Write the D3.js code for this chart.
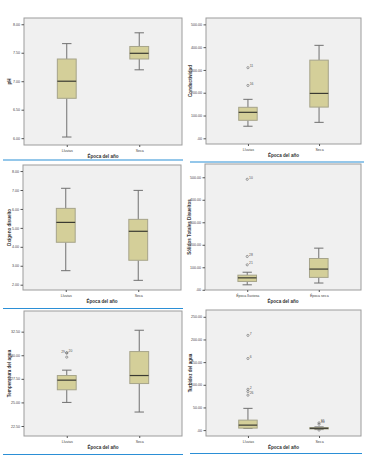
<!DOCTYPE html>
<html>
<head>
<meta charset="utf-8">
<script src="https://cdn.jsdelivr.net/npm/d3@7"></script>
<style>
  html, body { margin: 0; padding: 0; background: #fff; }
  svg { display: block; font-family: "Liberation Sans", Arial, sans-serif; }
</style>
</head>
<body>
<div id="container"></div>
<script>
// categories
const seasonsA = ['Lluvias', 'Seca'];
const seasonsB = ['Época lluviosa', 'Época seca'];

// box stats per group: [min, q1, median, q3, max]
const phStats = [[6.02, 6.70, 7.00, 7.39, 7.66], [7.20, 7.39, 7.49, 7.61, 7.85]];
const condStats = [[53, 79, 114, 136, 171], [70, 137, 197, 343, 408]];
const oxiStats = [[2.74, 4.24, 5.29, 6.03, 7.09], [2.23, 3.29, 4.82, 5.45, 6.98]];
const stdStats = [[22, 37, 53, 65, 78], [30, 55, 92, 139, 185]];
const tempStats = [[25.0, 26.34, 27.36, 27.85, 28.42], [23.98, 27.0, 27.85, 30.39, 32.65]];
const turbStats = [[3.7, 4.4, 11, 22, 48], [1.2, 2.5, 4, 5.5, 7]];

// outliers per group: [value, case label, label on left side]
const condOut = [[[310, '11'], [232, '16']], []];
const stdOut = [[[491, '10'], [148, '28'], [111, '21']], []];
const tempOut = [[[30.25, '20'], [30.25, '29', true], [29.8, '']], []];
const turbOut = [[[209, '7'], [158, '6'], [90, '2'], [85, ''], [77, '26']], [[16, '31'], [13, '30'], [0, '']]];

// tick values
const phTicks = [6, 6.5, 7, 7.5, 8];
const condTicks = [0, 100, 200, 300, 400, 500];
const oxiTicks = [2, 3, 4, 5, 6, 7, 8];
const stdTicks = [0, 100, 200, 300, 400, 500];
const tempTicks = [22.5, 25, 27.5, 30, 32.5];
const turbTicks = [0, 50, 100, 150, 200, 250];

const W = 375, H = 457;
const svg = d3.select('#container').append('svg').attr('width', W).attr('height', H);

const fmt = v => { const s = d3.format('.2f')(v); return s.startsWith('0.') ? s.slice(1) : s; };

function drawPanel(p) {
  const { x0, x1, y0, y1 } = p.frame;
  const g = svg.append('g');
  const y = d3.scaleLinear().domain(p.domain).range([y1, y0]);
  const x = d3.scalePoint().domain(p.cats).range([x0, x1]).padding(0.59);
  const bw = x.step() * 0.26;

  g.append('rect').attr('x', x0).attr('y', y0).attr('width', x1 - x0).attr('height', y1 - y0)
    .attr('fill', '#f0f0f0').attr('stroke', '#9c9c9c').attr('stroke-width', 1);

  const yAxis = g.append('g').attr('transform', `translate(${x0},0)`)
    .call(d3.axisLeft(y).tickValues(p.ticks).tickFormat(fmt).tickSize(2.5).tickPadding(1.5));
  yAxis.select('.domain').remove();
  yAxis.selectAll('line').attr('stroke', '#555');
  yAxis.selectAll('text').attr('font-size', 3.6).attr('fill', '#444').attr('font-family', 'Liberation Sans, Arial');

  const xAxis = g.append('g').attr('transform', `translate(0,${y1})`)
    .call(d3.axisBottom(x).tickSize(2).tickPadding(2));
  xAxis.select('.domain').remove();
  xAxis.selectAll('line').attr('stroke', '#555');
  xAxis.selectAll('text').attr('font-size', 3.6).attr('fill', '#444').attr('font-family', 'Liberation Sans, Arial');

  g.append('text').attr('x', (x0 + x1) / 2).attr('y', y1 + 12.5).attr('text-anchor', 'middle')
    .attr('font-size', 4.6).attr('font-weight', 'bold').attr('fill', '#333').text('Época del año');
  g.append('text').attr('transform', `translate(${p.titleX},${(y0 + y1) / 2}) rotate(-90)`)
    .attr('text-anchor', 'middle').attr('font-size', 4.6).attr('font-weight', 'bold').attr('fill', '#333')
    .text(p.title);

  p.stats.forEach((s, i) => {
    const cx = x(p.cats[i]);
    const [mn, q1, md, q3, mx] = s;
    g.append('line').attr('x1', cx).attr('x2', cx).attr('y1', y(mx)).attr('y2', y(q3)).attr('stroke', '#707070').attr('stroke-width', 1);
    g.append('line').attr('x1', cx).attr('x2', cx).attr('y1', y(q1)).attr('y2', y(mn)).attr('stroke', '#707070').attr('stroke-width', 1);
    [mn, mx].forEach(v => g.append('line').attr('x1', cx - bw / 4).attr('x2', cx + bw / 4).attr('y1', y(v)).attr('y2', y(v))
      .attr('stroke', '#707070').attr('stroke-width', 1));
    g.append('rect').attr('x', cx - bw / 2).attr('y', y(q3)).attr('width', bw).attr('height', Math.max(1, y(q1) - y(q3)))
      .attr('fill', '#d4cf99').attr('stroke', '#a6a48a').attr('stroke-width', 1);
    g.append('line').attr('x1', cx - bw / 2).attr('x2', cx + bw / 2).attr('y1', y(md)).attr('y2', y(md))
      .attr('stroke', '#3a3a32').attr('stroke-width', 1.2);

    (p.out[i] || []).forEach(([v, lab, left]) => {
      g.append('circle').attr('cx', cx).attr('cy', y(v)).attr('r', 1.1).attr('fill', 'none').attr('stroke', '#666').attr('stroke-width', 0.6);
      if (lab) g.append('text').attr('x', left ? cx - 1.8 : cx + 1.8).attr('y', y(v) - (left ? 0.2 : 0.8))
        .attr('text-anchor', left ? 'end' : 'start').attr('font-size', 3.4).attr('fill', '#555').text(lab);
    });
  });
}

drawPanel({ frame: { x0: 24, x1: 182, y0: 18, y1: 145 }, domain: [5.88, 8.11], ticks: phTicks, cats: seasonsA, stats: phStats, out: [[], []], title: 'pH', titleX: 11 });
drawPanel({ frame: { x0: 206, x1: 361, y0: 18, y1: 144 }, domain: [-25, 528], ticks: condTicks, cats: seasonsA, stats: condStats, out: condOut, title: 'Conductividad', titleX: 192 });
drawPanel({ frame: { x0: 23, x1: 181, y0: 165, y1: 290 }, domain: [1.72, 8.32], ticks: oxiTicks, cats: seasonsA, stats: oxiStats, out: [[], []], title: 'Oxígeno disuelto', titleX: 11 });
drawPanel({ frame: { x0: 205, x1: 361, y0: 164, y1: 290 }, domain: [-1, 559], ticks: stdTicks, cats: seasonsB, stats: stdStats, out: stdOut, title: 'Sólidos Totales Disueltos', titleX: 191 });
drawPanel({ frame: { x0: 24, x1: 182, y0: 311, y1: 436 }, domain: [21.44, 34.69], ticks: tempTicks, cats: seasonsA, stats: tempStats, out: tempOut, title: 'Temperatura del agua', titleX: 11 });
drawPanel({ frame: { x0: 206, x1: 361, y0: 310, y1: 436 }, domain: [-13, 265], ticks: turbTicks, cats: seasonsA, stats: turbStats, out: turbOut, title: 'Turbidez del agua', titleX: 192 });

// blue separator rules between the charts
const rules = [[3, 183, 160], [3, 183, 308.5], [3, 183, 454.5], [190, 364, 162], [190, 362, 453.5]];
rules.forEach(([a, b, yy]) => svg.append('line').attr('x1', a).attr('x2', b).attr('y1', yy).attr('y2', yy)
  .attr('stroke', '#2b8fd6').attr('stroke-width', 1.2));
</script>
</body>
</html>
